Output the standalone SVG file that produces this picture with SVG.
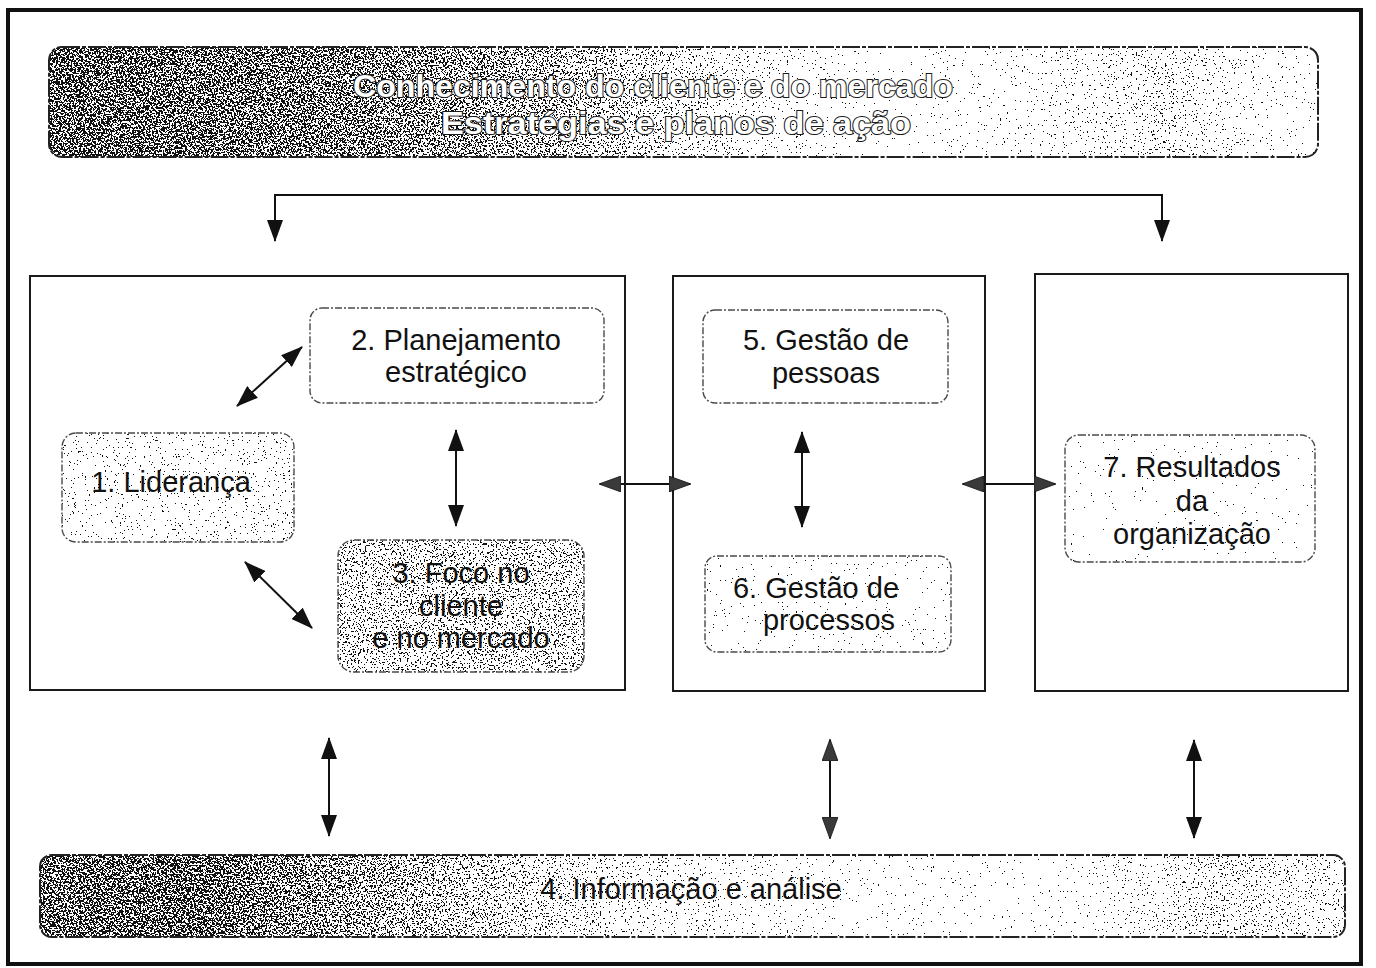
<svg xmlns="http://www.w3.org/2000/svg" width="1376" height="968" viewBox="0 0 1376 968">
  <style>
    .frame { fill: none; stroke: #111; stroke-width: 4; }
    .panel { fill: none; stroke: #1a1a1a; stroke-width: 2; }
    .node { fill: none; stroke: #4a4a4a; stroke-width: 1.4; stroke-dasharray: 7 2 2 2; }
    .band { fill: none; stroke: #222; stroke-width: 2; stroke-dasharray: 18 2 4 2; }
    .label { font-family: "Liberation Sans", Arial, Helvetica, sans-serif; font-size: 29px; fill: #111; text-anchor: middle; }
    .title { font-family: "Liberation Sans", Arial, Helvetica, sans-serif; font-size: 32px; font-weight: bold; fill: #fff; stroke: #1a1a1a; stroke-width: 2; paint-order: stroke; text-anchor: middle; }
    .link { fill: none; stroke: #111; stroke-width: 2; }
    .tri { marker-start: url(#head); marker-end: url(#head); }
    .tri-grey { marker-start: url(#headGrey); marker-end: url(#headGrey); }
  </style>
  <defs>
    <marker id="head" markerUnits="userSpaceOnUse" markerWidth="22" markerHeight="16" refX="21" refY="8" orient="auto-start-reverse">
      <path d="M0,0 L22,8 L0,16 Z" fill="#111"/>
    </marker>
    <marker id="headGrey" markerUnits="userSpaceOnUse" markerWidth="22" markerHeight="16" refX="21" refY="8" orient="auto-start-reverse">
      <path d="M0,0 L22,8 L0,16 Z" fill="#3a3a3a" stroke="#111" stroke-width="0.8"/>
    </marker>

    <!-- speckle screen: dot density follows the alpha of the painted shape -->
    <filter id="grain" x="0" y="0" width="100%" height="100%" color-interpolation-filters="sRGB">
      <feTurbulence type="fractalNoise" baseFrequency="0.55" numOctaves="2" seed="7" result="noise"/>
      <feColorMatrix in="noise" type="matrix" values="0 0 0 0 0  0 0 0 0 0  0 0 0 0 0  1 0 0 0 0" result="noiseA"/>
      <feComposite in="noiseA" in2="SourceAlpha" operator="arithmetic" k1="0" k2="1" k3="0.4" k4="-0.33" result="sum"/>
      <feComponentTransfer in="sum" result="dots">
        <feFuncR type="linear" slope="0" intercept="0.07"/>
        <feFuncG type="linear" slope="0" intercept="0.07"/>
        <feFuncB type="linear" slope="0" intercept="0.07"/>
        <feFuncA type="discrete" tableValues="0 1"/>
      </feComponentTransfer>
      <feComponentTransfer in="SourceAlpha" result="shape">
        <feFuncA type="discrete" tableValues="0 1 1 1 1 1 1 1 1 1 1 1 1 1 1 1 1 1 1 1"/>
      </feComponentTransfer>
      <feComposite in="dots" in2="shape" operator="in"/>
    </filter>

    <linearGradient id="gHeader" x1="0" y1="0" x2="1" y2="0">
      <stop offset="0" stop-color="#000" stop-opacity="0.88"/>
      <stop offset="0.22" stop-color="#000" stop-opacity="0.82"/>
      <stop offset="0.4" stop-color="#000" stop-opacity="0.66"/>
      <stop offset="0.55" stop-color="#000" stop-opacity="0.36"/>
      <stop offset="0.66" stop-color="#000" stop-opacity="0.16"/>
      <stop offset="0.8" stop-color="#000" stop-opacity="0.3"/>
      <stop offset="0.88" stop-color="#000" stop-opacity="0.42"/>
      <stop offset="1" stop-color="#000" stop-opacity="0.18"/>
    </linearGradient>
    <linearGradient id="gBottom" x1="0" y1="0" x2="1" y2="0">
      <stop offset="0" stop-color="#000" stop-opacity="0.85"/>
      <stop offset="0.12" stop-color="#000" stop-opacity="0.88"/>
      <stop offset="0.3" stop-color="#000" stop-opacity="0.62"/>
      <stop offset="0.45" stop-color="#000" stop-opacity="0.38"/>
      <stop offset="0.62" stop-color="#000" stop-opacity="0.22"/>
      <stop offset="0.78" stop-color="#000" stop-opacity="0.2"/>
      <stop offset="0.9" stop-color="#000" stop-opacity="0.45"/>
      <stop offset="1" stop-color="#000" stop-opacity="0.36"/>
    </linearGradient>
  </defs>

  <rect width="1376" height="968" fill="#fff"/>

  <!-- outer frame -->
  <rect class="frame" x="8" y="10" width="1353" height="954"/>

  <!-- column panels -->
  <g id="panels">
    <rect class="panel" x="30" y="276" width="595" height="414"/>
    <rect class="panel" x="673" y="276" width="312" height="415"/>
    <rect class="panel" x="1035" y="274" width="313" height="417"/>
  </g>

  <!-- top band: customer knowledge / strategies -->
  <g id="header">
    <rect x="49" y="47" width="1269" height="110" rx="13" fill="url(#gHeader)" filter="url(#grain)"/>
    <rect class="band" x="49" y="47" width="1269" height="110" rx="13"/>
    <text class="title" x="653" y="97" textLength="600" lengthAdjust="spacingAndGlyphs">Conhecimento do cliente e do mercado</text>
    <text class="title" x="676" y="134" textLength="470" lengthAdjust="spacingAndGlyphs">Estratégias e planos de ação</text>
  </g>

  <g id="node1">
    <rect x="62" y="433" width="232" height="109" rx="14" fill="#000" fill-opacity="0.3" filter="url(#grain)"/>
    <rect class="node" x="62" y="433" width="232" height="109" rx="14"/>
    <text class="label" x="171" y="492">1. Liderança</text>
  </g>

  <g id="node2">
    <rect class="node" x="310" y="308" width="294" height="95" rx="12"/>
    <text class="label" x="456" y="350">2. Planejamento</text>
    <text class="label" x="456" y="382">estratégico</text>
  </g>

  <g id="node3">
    <rect x="338" y="540" width="246" height="132" rx="16" fill="#000" fill-opacity="0.55" filter="url(#grain)"/>
    <rect class="node" x="338" y="540" width="246" height="132" rx="16"/>
    <text class="label" x="461" y="583">3. Foco no</text>
    <text class="label" x="461" y="616">cliente</text>
    <text class="label" x="461" y="648">e no mercado</text>
  </g>

  <g id="node5">
    <rect class="node" x="703" y="310" width="245" height="93" rx="12"/>
    <text class="label" x="826" y="350">5. Gestão de</text>
    <text class="label" x="826" y="383">pessoas</text>
  </g>

  <g id="node6">
    <rect x="705" y="556" width="246" height="96" rx="12" fill="#000" fill-opacity="0.2" filter="url(#grain)"/>
    <rect class="node" x="705" y="556" width="246" height="96" rx="12"/>
    <text class="label" x="816" y="598">6. Gestão de</text>
    <text class="label" x="829" y="630">processos</text>
  </g>

  <g id="node7">
    <rect x="1065" y="435" width="250" height="127" rx="14" fill="#000" fill-opacity="0.15" filter="url(#grain)"/>
    <rect class="node" x="1065" y="435" width="250" height="127" rx="14"/>
    <text class="label" x="1192" y="477">7. Resultados</text>
    <text class="label" x="1192" y="511">da</text>
    <text class="label" x="1192" y="544">organização</text>
  </g>

  <!-- bottom band: information and analysis -->
  <g id="node4">
    <rect x="40" y="855" width="1305" height="82" rx="12" fill="url(#gBottom)" filter="url(#grain)"/>
    <rect class="band" x="40" y="855" width="1305" height="82" rx="12"/>
    <text class="label" x="691" y="899">4. Informação e análise</text>
  </g>

  <g id="connectors">
    <path class="link tri" d="M275,241 L275,195 L1162,195 L1162,241"/>
    <line class="link tri" x1="237" y1="406" x2="302" y2="347"/>
    <line class="link tri" x1="245" y1="562" x2="312" y2="628"/>
    <line class="link tri" x1="456" y1="430" x2="456" y2="526"/>
    <line class="link tri" x1="802" y1="432" x2="802" y2="527"/>
    <line class="link tri-grey" x1="600" y1="484" x2="690" y2="484"/>
    <line class="link tri-grey" x1="963" y1="484" x2="1055" y2="484"/>
    <line class="link tri" x1="329" y1="738" x2="329" y2="836"/>
    <line class="link tri-grey" x1="830" y1="740" x2="830" y2="838"/>
    <line class="link tri" x1="1194" y1="740" x2="1194" y2="838"/>
  </g>
</svg>
